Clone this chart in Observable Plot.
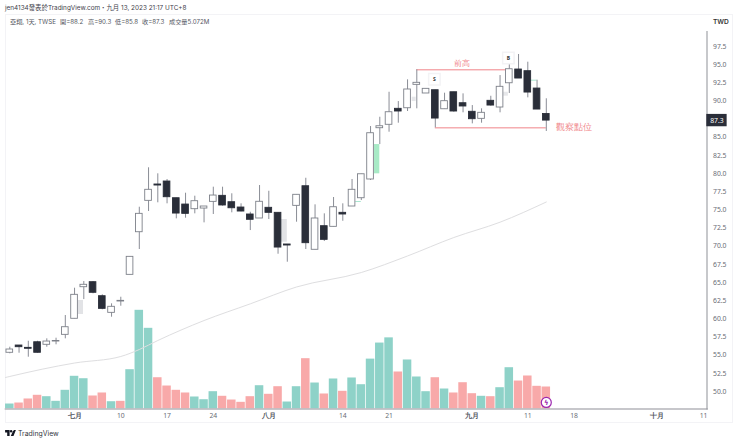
<!DOCTYPE html>
<html lang="zh-Hant">
<head>
<meta charset="utf-8">
<script src="https://cdn.jsdelivr.net/npm/d3@7"></script>
<script src="https://cdn.jsdelivr.net/npm/@observablehq/plot@0.6"></script>
<style>
html,body{margin:0;padding:0;background:#fff;width:740px;height:442px;overflow:hidden;font-family:Inter,"Noto Sans CJK TC",sans-serif;color:#4a4d57}
#wrap{position:relative;width:740px;height:442px}
#box{position:absolute;left:5px;top:14px;width:728px;height:409px;border:1px solid #f3f3f6;box-sizing:border-box}
#head{position:relative;height:30px}
#head span{position:absolute;white-space:nowrap;line-height:10px}
.pub{left:5px;top:3px;font-size:6.4px;color:#3f424c}
.leg{top:17px;font-size:6.2px;color:#555862}
.twd{left:713px;top:17px;font-size:6.6px;font-weight:600;color:#333}
#chart{position:absolute;left:0;top:30px}
#chart svg{display:block}
#foot{position:absolute;left:5px;top:427px;height:12px;display:flex;align-items:center;gap:2px;font-size:6.9px;color:#33363f}
</style>
</head>
<body>
<div id="wrap">
<div id="box"></div>
<div id="head">
<span class="pub">jen4134發表於TradingView.com・九月 13, 2023 21:17 UTC+8</span>
<span class="leg" style="left:10px">亞翔, 1天, TWSE</span>
<span class="leg" style="left:60px">開=88.2</span>
<span class="leg" style="left:88px">高=90.3</span>
<span class="leg" style="left:115px">低=85.8</span>
<span class="leg" style="left:142px">收=87.3</span>
<span class="leg" style="left:169px">成交量5.072M</span>
<span class="twd">TWD</span>
</div>
<div id="chart"></div>
<div id="foot">
<svg width="11" height="6" viewBox="0 0 36 20"><path d="M0 0H15V20H7V8H0Z M30 0H36L28 20H19L26 4Z" fill="#131722"/><circle cx="20" cy="4" r="4" fill="#131722"/></svg>
<span>TradingView</span>
</div>
</div>
<script>
const opens  = [55.33,56.33,56.01,56.78,56.43,56.88,57.80,60.01,64.36,65.05,63.12,60.83,62.39,66.06,71.93,76.25,78.50,78.91,76.61,75.74,75.10,75.19,76.11,76.94,76.06,75.33,74.37,73.82,75.29,74.60,70.24,75.56,78.26,69.51,72.76,72.67,74.60,75.47,76.61,79.19,86.25,86.72,88.92,89.00,92.22,91.03,91.48,88.86,91.20,89.69,88.51,87.54,90.02,89.10,92.44,94.33,94.10,91.71,88.2];
const highs  = [56.10,56.33,56.92,56.92,57.25,57.34,60.46,64.22,65.14,65.14,63.31,62.07,62.98,68.54,75.37,80.80,79.97,79.19,76.61,77.30,76.89,75.47,78.13,78.13,77.22,75.84,74.68,78.36,77.57,74.60,70.24,77.08,79.36,75.70,74.46,76.71,75.84,79.19,79.91,86.48,87.76,91.20,89.92,92.91,94.29,91.67,91.48,91.07,91.20,90.98,89.37,88.92,90.65,93.50,95.02,96.40,95.34,92.86,90.3];
const lows   = [55.19,55.27,54.72,55.27,56.10,56.43,57.25,60.01,62.66,63.45,61.25,60.23,61.74,66.06,69.55,74.78,75.98,75.84,73.77,73.86,74.46,73.22,74.37,75.51,74.60,74.74,72.16,73.82,73.68,68.90,67.80,73.31,69.55,69.51,70.65,72.67,73.44,75.47,76.29,79.05,84.00,85.70,86.94,88.55,88.92,91.03,86.30,88.86,88.45,88.37,86.85,86.94,89.28,88.37,91.03,93.09,90.43,88.82,85.8];
const closes = [55.78,56.10,55.88,55.33,56.88,56.95,58.85,63.31,64.69,63.59,61.38,61.66,62.48,68.54,74.46,77.77,78.36,76.75,74.50,74.46,76.20,75.47,76.98,75.61,75.23,74.78,73.64,76.12,74.60,69.82,70.10,77.08,70.42,73.82,70.88,75.37,74.37,77.77,79.91,85.56,86.52,88.45,88.55,91.58,92.50,91.67,87.58,89.97,88.55,89.24,87.49,88.37,89.37,91.95,94.37,93.09,91.16,88.82,87.3];
const volumesM = [1.15,1.38,2.31,3.16,2.84,1.77,4.31,7.54,6.98,3.00,3.69,1.68,1.77,9.06,22.75,18.6,7.21,5.30,4.31,3.69,2.77,2.14,3.99,2.93,2.07,1.54,2.84,5.37,3.39,5.14,1.61,5.14,11.6,5.99,3.46,6.92,4.08,7.15,5.6,11.5,15.2,16.4,8.53,11.3,7.38,3.99,7.21,4.61,3.69,6.06,3.53,2.93,2.84,4.91,9.52,6.45,7.61,5.23,5.072];
const volumeSides = "TRRRTTTTTRRTRTTTRRRRTTTRRRRTRR" + "TTRTRTRTTTTTRTTTRTRRRTRTTRRRR";
const maIndex = [-0.46,0,7,12,14,16,21,26,31,38,43,48,53,58];
const maValue = [51.93,52.07,53.92,54.82,55.78,57.02,59.77,62.07,64.39,66.38,68.66,71.20,73.31,76.09];
const tickDays = [12,17,22,36,41,56,61,75];
const tickDayLabels = ["10","17","24","14","21","11","18","11"];
const tickMonths = [7,28,50,70];
const tickMonthLabels = ["七月","八月","九月","十月"];
const priceTicks = [50,52.5,55,57.5,60,62.5,65,67.5,70,72.5,75,77.5,80,82.5,85,90,92.5,95,97.5];
const ghostZones = [[7.43,7.97,60.60,62.53,"#e2e3e6"],[29.3,30,70.56,73.68,"#e2e3e6"],[43.5,43.93,89.92,90.52,"#e6e7ea"],[53.4,53.9,90.66,91.2,"#e6e7ea"],[39.43,40,79.97,84,"#a8eac6"]];
const tealTicks = [[37.4,38,76.16],[56.3,57,92.86]];
const refLines = [[44,53.7,94.29],[46,58,86.3]];
const noteHigh = [[48.9,95.16,"前高"]];
const noteWatch = [[59,86.35,"觀察點位"]];
const badges = [[45.9,93.0,"S"],[53.9,95.92,"B"]];
const lastClose = 87.3;

const idx = d3.range(opens.length);
const dark = "#2a2e39", wickCol = "#8a8d96", teal = "#8ed2c8", red = "#f8a9a9", pink = "#f08488";
const volBase = 47.59, volK = 0.5973;
const candleHalf = 0.36;

const volData = idx.map(i => ({i, top: volBase + volumesM[i]*volK, c: volumeSides[i] === "T" ? teal : red}));
const isUp = i => closes[i] >= opens[i];

const plot = Plot.plot({
  width: 740, height: 394,
  marginLeft: 5, marginRight: 33.5, marginTop: 1, marginBottom: 15.5,
  x: {type:"linear", domain:[0,10], range:[9.3,101.8], axis:null},
  y: {type:"linear", domain:[50,97.5], range:[361,16], axis:null},
  marks: [
    Plot.rect(volData, {x1:d=>d.i-0.46, x2:d=>d.i+0.46, y1:volBase, y2:"top", fill:"c"}),
    Plot.rect(ghostZones, {x1:d=>d[0], x2:d=>d[1], y1:d=>d[2], y2:d=>d[3], fill:d=>d[4]}),
    Plot.ruleY(tealTicks, {x1:d=>d[0], x2:d=>d[1], y:d=>d[2], stroke:"#a8e6cf", strokeWidth:1}),
    Plot.line(maIndex.map((m,k)=>[m,maValue[k]]), {x:d=>d[0], y:d=>d[1], stroke:"#dedee0", strokeWidth:1, curve:"monotone-x"}),
    Plot.ruleY(refLines, {x1:d=>d[0], x2:d=>d[1], y:d=>d[2], stroke:pink, strokeWidth:1}),
    Plot.ruleX(idx, {x:i=>i, y1:i=>lows[i], y2:i=>highs[i], stroke:wickCol, strokeWidth:1}),
    Plot.rect(idx, {x1:i=>i-candleHalf, x2:i=>i+candleHalf, y1:i=>opens[i], y2:i=>closes[i],
      fill:i=>isUp(i)?"#fff":dark, stroke:i=>isUp(i)?"#7d8089":dark, strokeWidth:0.9}),
    Plot.text(noteHigh, {x:d=>d[0], y:d=>d[1], text:d=>d[2], fontSize:7.5, textAnchor:"middle", fill:pink}),
    Plot.text(noteWatch, {x:d=>d[0], y:d=>d[1], text:d=>d[2], fontSize:8.5, textAnchor:"start", fill:pink}),
    Plot.dot(badges, {x:d=>d[0], y:d=>d[1], r:6.5, fill:"#fff", stroke:"#f3f3f5", symbol:"square"}),
    Plot.text(badges, {x:d=>d[0], y:d=>d[1], text:d=>d[2], fontSize:5, fontWeight:700, fill:"#333"}),
    Plot.dot([58], {x:d=>d, y:48.49, r:5, fill:"#fff", stroke:"#9c27b0", strokeWidth:1.2}),
    Plot.text([58], {x:d=>d, y:48.49, text:()=>"ϟ", fontFamily:"DejaVu Sans", fontWeight:700, fontSize:7, fill:"#9c27b0"}),
    Plot.frame({anchor:"bottom", stroke:"#b4b5ba", strokeWidth:1.6, strokeOpacity:1}),
    Plot.frame({anchor:"right", stroke:"#8f9197", strokeWidth:1, strokeOpacity:1}),
    Plot.axisY({anchor:"right", ticks:priceTicks, tickSize:0, tickPadding:6, tickFormat:d=>d.toFixed(1), fontSize:6.8, fill:"#6a6d75", label:null}),
    Plot.axisX({anchor:"bottom", ticks:tickDays, tickSize:0, tickPadding:4, tickFormat:d=>tickDayLabels[tickDays.indexOf(d)], fontSize:6.8, fill:"#6a6d75", label:null}),
    Plot.axisX({anchor:"bottom", ticks:tickMonths, tickSize:0, tickPadding:4, tickFormat:d=>tickMonthLabels[tickMonths.indexOf(d)], fontSize:6.8, fontWeight:600, fill:"#55585f", label:null}),
    Plot.rect([lastClose], {x1:75.35, x2:77.55, y1:d=>d-0.85, y2:d=>d+0.85, fill:dark}),
    Plot.text([lastClose], {x:76.45, y:d=>d, text:d=>d.toFixed(1), fontSize:6.8, fill:"#fff"})
  ]
});
document.getElementById("chart").appendChild(plot);
</script>
</body>
</html>
